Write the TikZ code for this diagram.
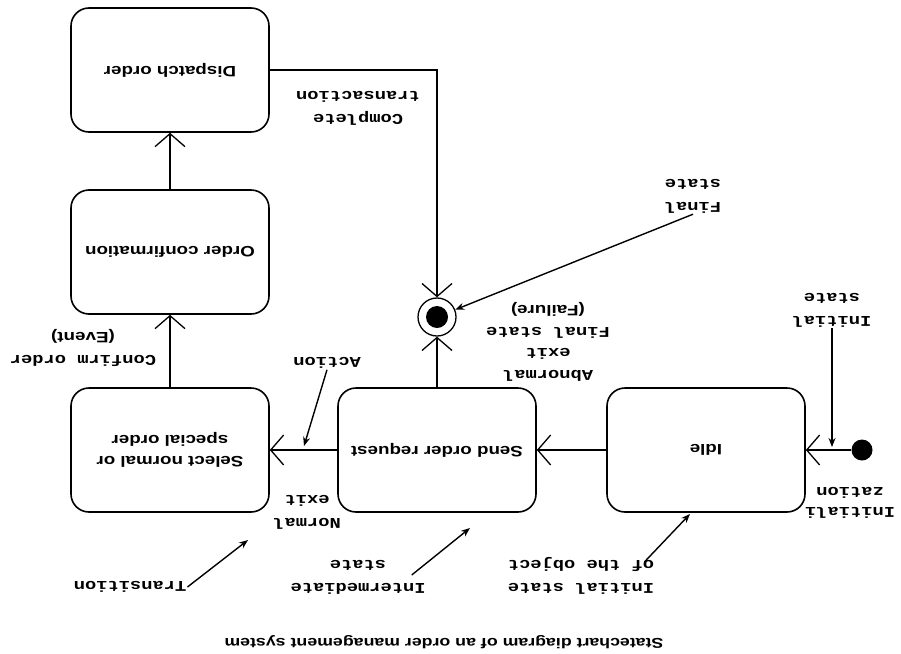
\documentclass[tikz,border=0pt]{standalone}
\usepackage{fontspec}
\setmainfont{Liberation Sans}[FakeStretch=1.25]
\newfontfamily\labelmono{Liberation Mono}[FakeStretch=1.25]
\usetikzlibrary{arrows.meta,calc}
\begin{document}
\begin{tikzpicture}[x=1pt,y=-1pt,
  every node/.append style={rotate=180},
  state/.style={draw, rounded corners=18pt, line width=1.6pt, minimum width=198pt,
    minimum height=124pt, align=center, inner sep=0pt,
    font=\bfseries\fontsize{15}{21}\selectfont},
  trans/.style={line width=1.4pt, -{Straight Barb[length=13pt,width=30pt,line width=1.3pt]}},
  note/.style={line width=1.4pt, -{Stealth[length=9pt,width=7pt]}},
  lbl/.style={font=\labelmono\bfseries\fontsize{15}{23}\selectfont, align=center, inner sep=1pt},
  ]
\fill[white] (0,0) rectangle (901,653);
\useasboundingbox (0,0) rectangle (901,653);

% states
\node[state] (dispatch) at (170,70) {Dispatch order};
\node[state] (confirm) at (170,252) {Order confirmation};
\node[state] (select) at (170,450) {Select normal or\\special order};
\node[state] (send) at (437,450) {Send order request};
\node[state] (idle) at (706,450) {Idle};
\node[circle, fill=black, minimum size=21pt, inner sep=0pt] (init) at (862,450) {};
\node[circle, draw, line width=1.3pt, minimum size=38pt, inner sep=0pt] (final) at (437,317) {};
\node[circle, fill=black, minimum size=22pt, inner sep=0pt] (finalin) at (437,317) {};

% transitions
\draw[trans] (init) -- (idle);
\draw[trans] (idle) -- (send);
\draw[trans] (send) -- (select);
\draw[trans] (select) -- (confirm);
\draw[trans] (confirm) -- (dispatch);
\draw[trans] (send) -- (final);
\draw[trans] (dispatch) -| (final);

% labels
\node[lbl] (lbcomplete) at (358,108) {Complete\\transaction};
\node[lbl] (lbfinal) at (693,196) {Final\\state};
\node[lbl] (lbinit) at (832,310) {Initial\\state};
\node[lbl, font=\labelmono\bfseries\fontsize{15}{21.7}\selectfont] (lbabn) at (548,342)
  {Abnormal\\exit\\Final state\\{\rmfamily(Failure)}};
\node[lbl] (lbconfirm) at (83,348) {Confirm order\\{\rmfamily(Event)}};
\node[lbl] (lbaction) at (327,363) {Action};
\node[lbl] (lbnormal) at (307,512) {Normal\\exit};
\node[lbl, font=\labelmono\bfseries\fontsize{15}{20}\selectfont] (lbinitz) at (850,503) {Initiali\\zation};
\node[lbl] (lbtrans) at (130,587) {Transition};
\node[lbl] (lbinter) at (358,577) {Intermediate\\state};
\node[lbl] (lbobj) at (581,576) {Initial state\\of the object};
\node[font=\bfseries\fontsize{14.2}{17}\selectfont] (caption) at (444,642)
  {Statechart diagram of an order management system};

% annotation arrows
\coordinate (inittip) at (832,447);
\draw[note] (lbinit.north) -- (inittip);
\draw[note] (lbfinal.north) -- (final);
\coordinate (acttip) at (304,446);
\draw[note] (lbaction.north) -- (acttip);
\coordinate (transtip) at (248,540);
\draw[note] (lbtrans.west) -- (transtip);
\coordinate (intertip) at (470,528);
\draw[note] ([shift={(-15,-2)}]lbinter.west) -- (intertip);
\coordinate (objtip) at (690,514);
\draw[note] ([shift={(-11,-14)}]lbobj.west) -- (objtip);
\end{tikzpicture}
\end{document}
